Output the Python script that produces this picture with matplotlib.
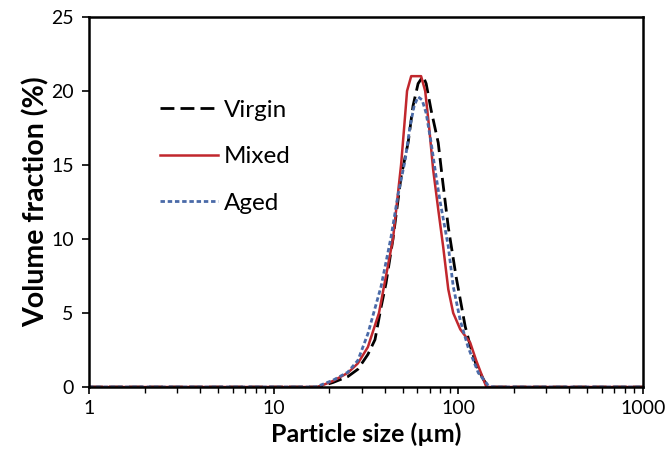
import matplotlib
matplotlib.use("Agg")
import matplotlib.pyplot as plt
from matplotlib.ticker import LogLocator, NullFormatter, FixedLocator, FixedFormatter

plt.rcParams["font.family"] = ["Lato", "DejaVu Sans"]

# particle size (um) and volume fraction (%)
virgin_size = [1, 17.4, 20.9, 25.2, 28.6, 32.4, 35.4, 38.2, 40.6, 44.3, 49.0, 53.5,
               56.9, 60.6, 64.5, 67.0, 71.3, 77.9, 81.8, 88.3, 97.5, 109, 116, 125, 137, 145.5, 1000]
virgin_vol = [0, 0, 0.3, 0.7, 1.2, 2.2, 3.2, 5.4, 7.0, 10.0, 14.2, 16.5,
              19.0, 20.5, 21.0, 20.5, 18.7, 16.5, 14.2, 10.8, 7.4, 4.1, 2.8, 1.5, 0.5, 0, 0]

mixed_size = [1, 17.4, 20.9, 25.2, 28.6, 32.4, 37.2, 40.6, 44.3, 46.6, 49.0, 50.9, 52.8,
              55.6, 62.9, 66.2, 69.6, 73.1, 77.9, 82.8, 88.3, 93.9, 102.5, 116, 125, 137, 142, 1000]
mixed_vol = [0, 0, 0.4, 0.95, 1.6, 2.7, 5.0, 7.5, 10.0, 12.5, 15.0, 17.5, 20.0,
             21.0, 21.0, 20.0, 17.5, 14.7, 12.0, 9.5, 6.6, 5.0, 3.9, 3.0, 1.8, 0.5, 0, 0]

aged_size = [1, 16.9, 20.9, 25.2, 28.6, 32.4, 38.2, 43.2, 47.2, 51.5, 54.8, 57.7, 60.6,
             63.7, 67.0, 71.3, 75.9, 79.8, 88.3, 93.9, 102.5, 113, 128.5, 145.5, 155, 1000]
aged_vol = [0, 0, 0.45, 1.0, 1.8, 3.6, 6.8, 10.1, 13.0, 15.3, 17.6, 19.0, 19.6,
            19.4, 18.5, 16.5, 14.2, 12.5, 9.5, 6.8, 4.5, 2.7, 0.95, 0.1, 0, 0]

fig = plt.figure(figsize=(6.69, 4.62), dpi=100)
ax = fig.add_axes([0.133, 0.1623, 0.828, 0.801])

ax.plot(virgin_size, virgin_vol, color="black", lw=2.0, dashes=(5, 2.2), label="Virgin")
ax.plot(mixed_size, mixed_vol, color="#c1272d", lw=1.8, label="Mixed")
ax.plot(aged_size, aged_vol, color="#4a6aa8", lw=2.0, dashes=(1.6, 1.0), label="Aged")

ax.set_xscale("log")
ax.set_xlim(1, 1000)
ax.set_ylim(0, 25)
ax.xaxis.set_major_locator(FixedLocator([1, 10, 100, 1000]))
ax.xaxis.set_major_formatter(FixedFormatter(["1", "10", "100", "1000"]))
ax.xaxis.set_minor_locator(LogLocator(base=10, subs=range(2, 10)))
ax.xaxis.set_minor_formatter(NullFormatter())
ax.set_yticks([0, 5, 10, 15, 20, 25])

for s in ax.spines.values():
    s.set_linewidth(1.8)
ax.tick_params(axis="both", which="major", direction="out", length=5, width=1.2,
               labelsize=14, pad=4)
ax.tick_params(axis="y", which="major", pad=6)
ax.tick_params(axis="x", which="minor", direction="out", length=4, width=1.0)

ax.set_xlabel("Particle size (\u00b5m)", fontsize=18, fontweight="bold", labelpad=4)
ax.set_ylabel("Volume fraction (%)", fontsize=20.5, fontweight="bold", labelpad=1)

ax.legend(loc="upper left", bbox_to_anchor=(0.088, 0.835), frameon=False, fontsize=17.5,
          handlelength=2.4, handletextpad=0.25, labelspacing=1.05)

fig.savefig("out.png", dpi=100)
